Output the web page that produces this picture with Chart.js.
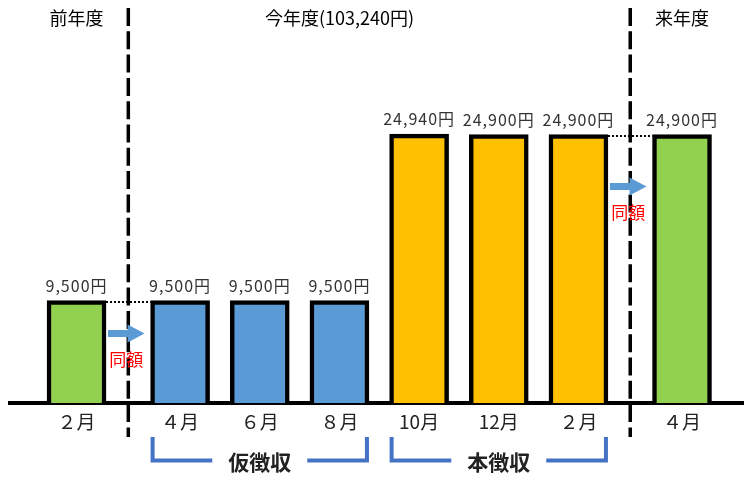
<!DOCTYPE html>
<html lang="ja">
<head>
<meta charset="UTF-8">
<title>徴収額の推移</title>
<script src="https://cdn.jsdelivr.net/npm/chart.js"></script>
<style>
  body { margin: 0; background: #fff; }
  .chart-container { width: 744px; height: 478px; }
</style>
</head>
<body>
<div class="chart-container"><canvas id="taxChart"></canvas></div>
<script>
const months = ['２月', '４月', '６月', '８月', '10月', '12月', '２月', '４月'];
const amounts = [9500, 9500, 9500, 9500, 24940, 24900, 24900, 24900];
const yearIndex = [0, 1, 1, 1, 1, 1, 1, 2];
const barColors = ['#92D050', '#5B9BD5', '#5B9BD5', '#5B9BD5', '#FFC000', '#FFC000', '#FFC000', '#92D050'];
const yearLabels = ['前年度', '今年度(103,240円)', '来年度'];
const collectLabels = ['仮徴収', '本徴収'];
const collectFirst = [1, 4];
const collectLast = [3, 6];
const sameLabel = '同額';

const FONT = '"Noto Sans CJK JP", "Noto Sans", sans-serif';
// leave a bit more room where the fiscal year changes
const xs = yearIndex.map((g, i) => i + g * 0.3);

const extras = {
    id: 'extras',
    afterDatasetsDraw(chart) {
        const ctx = chart.ctx;
        const bars = chart.getDatasetMeta(0).data;
        const xScale = chart.scales.x;
        ctx.save();

        // amount above each bar
        ctx.font = '16px ' + FONT;
        ctx.fillStyle = '#333';
        ctx.textAlign = 'center';
        ctx.textBaseline = 'middle';
        ctx.letterSpacing = '1px';
        bars.forEach((b, i) => ctx.fillText(amounts[i].toLocaleString('en-US') + '円', b.x, b.y - 15));
        ctx.letterSpacing = '0px';

        // year boundaries: dashed divider, dotted level line, arrow + 同額
        const arrowDrop = [33, 52];
        for (let i = 0; i < bars.length - 1; i++) {
            if (yearIndex[i] === yearIndex[i + 1]) continue;
            const a = bars[i], b = bars[i + 1];
            const k = yearIndex[i];
            const left = a.x + a.width / 2;
            const right = b.x - b.width / 2;
            const mid = xScale.getPixelForValue((xs[i] + xs[i + 1]) / 2);

            ctx.strokeStyle = '#000';
            ctx.lineWidth = 3.5;
            ctx.setLineDash([18, 5.3]);
            ctx.beginPath(); ctx.moveTo(mid, 8); ctx.lineTo(mid, 437); ctx.stroke();

            ctx.lineWidth = 2;
            ctx.setLineDash([2, 2]);
            ctx.beginPath(); ctx.moveTo(left, a.y + 1.5); ctx.lineTo(right, a.y + 1.5); ctx.stroke();
            ctx.setLineDash([]);

            const ay = a.y + arrowDrop[k];
            const sx = left + 2, tip = right - 6, neck = tip - 17;
            ctx.fillStyle = '#5B9BD5';
            ctx.beginPath();
            ctx.moveTo(sx, ay - 3.5);
            ctx.lineTo(neck, ay - 3.5);
            ctx.lineTo(neck, ay - 9);
            ctx.lineTo(tip, ay);
            ctx.lineTo(neck, ay + 9);
            ctx.lineTo(neck, ay + 3.5);
            ctx.lineTo(sx, ay + 3.5);
            ctx.closePath();
            ctx.fill();

            ctx.fillStyle = '#FF0000';
            ctx.font = '17px ' + FONT;
            ctx.fillText(sameLabel, (sx + tip) / 2, ay + 26);
        }

        // fiscal year headers
        const headerBar = [0, 3, 7];
        ctx.fillStyle = '#000';
        ctx.font = '18px ' + FONT;
        yearLabels.forEach((t, k) => ctx.fillText(t, bars[headerBar[k]].x, 18));

        // collection brackets
        ctx.strokeStyle = '#4472C4';
        ctx.lineWidth = 4;
        ctx.lineJoin = 'miter';
        ctx.font = 'bold 21px ' + FONT;
        collectLabels.forEach((t, k) => {
            const f = bars[collectFirst[k]], l = bars[collectLast[k]];
            const x0 = f.x - f.width / 2 + 2;
            const x1 = l.x + l.width / 2 - 2;
            const cx = (x0 + x1) / 2;
            const half = ctx.measureText(t).width / 2 + 16;
            ctx.beginPath();
            ctx.moveTo(x0, 437); ctx.lineTo(x0, 460.5); ctx.lineTo(cx - half, 460.5);
            ctx.moveTo(cx + half, 460.5); ctx.lineTo(x1, 460.5); ctx.lineTo(x1, 437);
            ctx.stroke();
            ctx.fillStyle = '#222';
            ctx.fillText(t, cx, 462);
        });

        ctx.restore();
    }
};

const ctx = document.getElementById('taxChart').getContext('2d');
new Chart(ctx, {
    type: 'bar',
    data: {
        datasets: [{
            data: xs.map((x, i) => ({ x: x, y: amounts[i] })),
            backgroundColor: barColors,
            borderColor: '#000',
            borderWidth: 4.5,
            borderSkipped: 'bottom',
            barThickness: 59
        }]
    },
    options: {
        responsive: true,
        maintainAspectRatio: false,
        animation: false,
        layout: { padding: { left: 10, right: 0, top: 4, bottom: 37 } },
        plugins: {
            legend: { display: false },
            tooltip: { enabled: false }
        },
        scales: {
            x: {
                type: 'linear',
                offset: false,
                min: -0.835,
                max: 8.378,
                z: 1,
                grid: { display: false, drawTicks: false },
                border: { display: true, color: '#000', width: 4 },
                afterBuildTicks: (scale) => { scale.ticks = xs.map(v => ({ value: v })); },
                ticks: {
                    autoSkip: false,
                    maxRotation: 0,
                    padding: 7.6,
                    color: '#222',
                    font: { family: FONT, size: 19 },
                    callback: (v, i) => months[i]
                }
            },
            y: {
                display: false,
                min: 0,
                max: 37000
            }
        }
    },
    plugins: [extras]
});
</script>
</body>
</html>
